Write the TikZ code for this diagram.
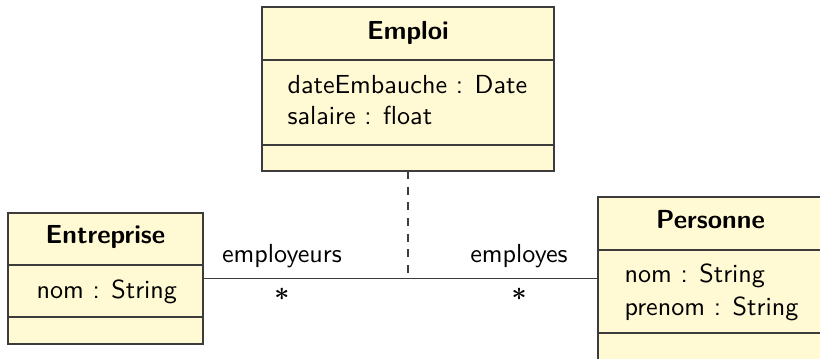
\documentclass[tikz,border=0pt]{standalone}
\usetikzlibrary{fit}
\definecolor{classfill}{RGB}{255,249,212}
\definecolor{classline}{RGB}{60,60,60}
\tikzset{
  classbox/.style={draw=classline, fill=classfill, line width=0.6pt, inner sep=0pt, outer sep=0pt, rectangle},
  divider/.style={draw=classline, line width=0.6pt},
  classname/.style={font=\sffamily\bfseries, anchor=base, inner sep=0pt},
  attr/.style={font=\sffamily, anchor=base west, inner sep=0pt},
  rolename/.style={font=\sffamily, inner sep=0pt, anchor=base, yshift=6.1pt},
  multiplicity/.style={font=\boldmath, inner sep=0pt, anchor=center, yshift=-6.1pt},
  assoc/.style={draw=classline, line width=0.6pt},
  assocclass/.style={draw=classline, line width=0.6pt, dashed}
}
\begin{document}
\begin{tikzpicture}[x=0.383pt, y=-0.383pt]
\clip (0,0) rectangle (820,358);

% Emploi (association class)
\node[classbox, fit={(262,7) (554,171)}] (emploi) {};
\draw[divider] (emploi.west |- 0,60) -- (emploi.east |- 0,60);
\draw[divider] (emploi.west |- 0,145) -- (emploi.east |- 0,145);
\node[classname] (emploiT) at (408,39) {Emploi};
\node[attr] (emploiA1) at (287,93) {dateEmbauche : Date};
\node[attr] (emploiA2) at (287,124) {salaire : float};

% Entreprise
\node[classbox, fit={(8,213) (203,344)}] (ent) {};
\draw[divider] (ent.west |- 0,265) -- (ent.east |- 0,265);
\draw[divider] (ent.west |- 0,317) -- (ent.east |- 0,317);
\node[classname] (entT) at (105.5,243) {Entreprise};
\node[attr] (entA1) at (36,298) {nom : String};

% Personne
\node[classbox, fit={(598,197) (823,360)}] (pers) {};
\draw[divider] (pers.west |- 0,250) -- (pers.east |- 0,250);
\draw[divider] (pers.west |- 0,333) -- (pers.east |- 0,333);
\node[classname] (persT) at (710.5,228) {Personne};
\node[attr] (persA1) at (624,282) {nom : String};
\node[attr] (persA2) at (624,315) {prenom : String};

% association with role names and multiplicities
\draw[assoc] (ent.east) --
  node[pos=0.2, rolename] (roleEnt) {employeurs}
  node[pos=0.2, multiplicity] (multEnt) {$*$}
  node[pos=0.8, rolename] (rolePers) {employes}
  node[pos=0.8, multiplicity] (multPers) {$*$}
  coordinate[pos=0.5] (assocMid)
  (pers.west);

% link of the association class
\coordinate (emploiFoot) at (emploi.south |- assocMid);
\draw[assocclass] (emploi.south) -- (emploiFoot);
\end{tikzpicture}
\end{document}
